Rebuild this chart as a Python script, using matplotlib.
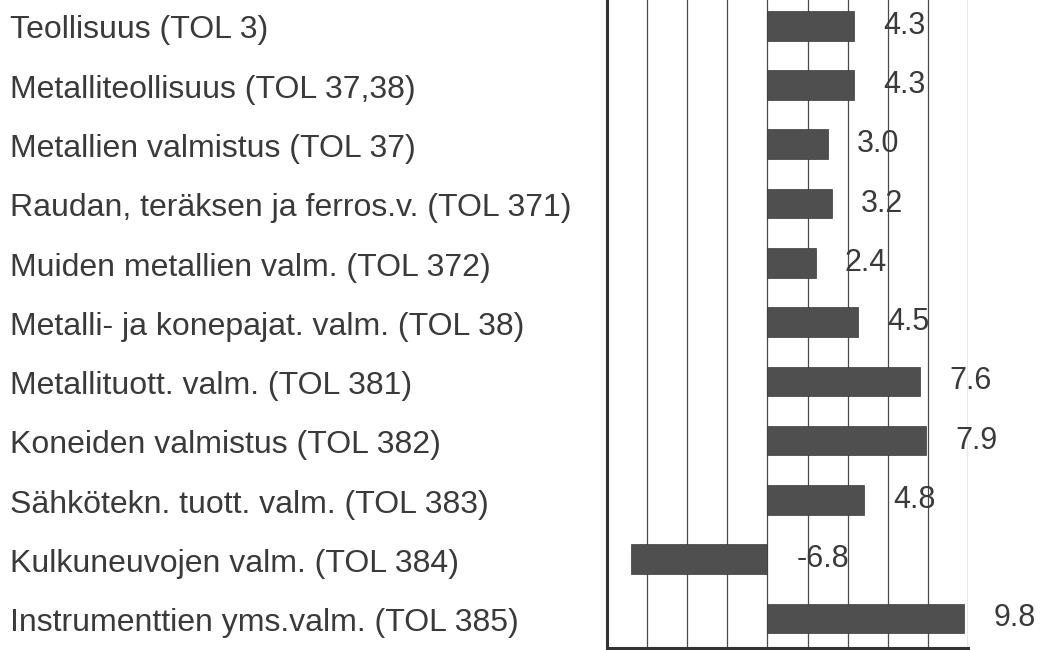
import matplotlib.pyplot as plt
import matplotlib.transforms as mtransforms

# Industry categories (top to bottom) and their values
categories = [
    'Teollisuus (TOL 3)',
    'Metalliteollisuus (TOL 37,38)',
    'Metallien valmistus (TOL 37)',
    'Raudan, teräksen ja ferros.v. (TOL 371)',
    'Muiden metallien valm. (TOL 372)',
    'Metalli- ja konepajat. valm. (TOL 38)',
    'Metallituott. valm. (TOL 381)',
    'Koneiden valmistus (TOL 382)',
    'Sähkötekn. tuott. valm. (TOL 383)',
    'Kulkuneuvojen valm. (TOL 384)',
    'Instrumenttien yms.valm. (TOL 385)',
]
values = [4.3, 4.3, 3.0, 3.2, 2.4, 4.5, 7.6, 7.9, 4.8, -6.8, 9.8]
grid_ticks = [-8, -6, -4, -2, 0, 2, 4, 6, 8, 10]

plt.rcParams['font.family'] = ['Liberation Sans', 'DejaVu Sans']

fig = plt.figure(figsize=(10.4, 6.5), dpi=100)
ax = fig.add_axes([0.5837, 0.003, 0.3471, 1.003])

y = list(range(len(categories)))
ax.barh(y, values, height=0.5, color='#4f4f4f', edgecolor='#3a3a3a', linewidth=0.5, zorder=3)

ax.set_xlim(-8, 10)
ax.set_ylim(len(categories) - 0.5, -0.5)
ax.set_xticks(grid_ticks)
ax.set_xticklabels([])
ax.set_yticks([])
ax.grid(axis='x', color='#4a4a4a', linewidth=0.9, zorder=1)
ax.tick_params(axis='x', direction='out', length=8, width=1.2, color='#333333')

for side in ['top', 'right']:
    ax.spines[side].set_visible(False)
ax.spines['left'].set_linewidth(2.2)
ax.spines['left'].set_color('#333333')
ax.spines['bottom'].set_linewidth(2.2)
ax.spines['bottom'].set_color('#333333')

# Category names on the left, left aligned
trans = mtransforms.blended_transform_factory(fig.transFigure, ax.transData)
for i, name in enumerate(categories):
    ax.text(10 / 1040, i + 0.08, name, transform=trans, ha='left', va='center',
            fontsize=23, color='#3a3a3a', clip_on=False)

# Value labels to the right of bars (or of zero for negative)
for i, v in enumerate(values):
    ax.annotate(f'{v:.1f}', xy=(max(v, 0), i), xytext=(21, 0), textcoords='offset points',
                ha='left', va='center', fontsize=22, color='#3a3a3a', zorder=4)

fig.savefig('out.png', dpi=100)
